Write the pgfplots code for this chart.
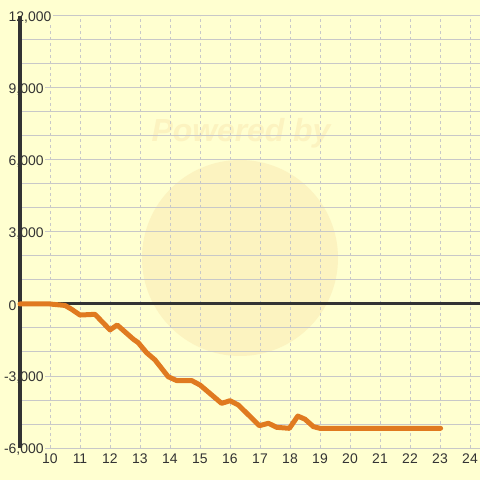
\documentclass[border=0pt]{standalone}
\usepackage{pgfplots}
\pgfplotsset{compat=1.18}
\usepackage{fontspec}
\setmainfont{Liberation Sans}
\definecolor{bgc}{RGB}{255,255,208}
\definecolor{gridc}{RGB}{200,200,200}
\definecolor{axc}{RGB}{51,51,51}
\definecolor{linec}{RGB}{224,122,32}
\definecolor{wm}{RGB}{252,243,192}
\begin{document}
\begin{tikzpicture}
\fill[bgc] (-20bp,-32bp) rectangle (460bp,448bp);
\fill[wm] (220bp,190bp) circle (98bp);
\node[text=wm, font=\bfseries\itshape\fontsize{32}{32}\selectfont] at (221bp,315bp) {Powered by};
\begin{axis}[
  scale only axis, width=460bp, height=432bp,
  xmin=9, xmax=24.3333, ymin=-6000, ymax=12000,
  axis line style={draw=none},
  major tick length=0pt, minor tick length=0pt,
  scaled y ticks=false,
  xtick={10,...,24},
  ytick={-6000,-3000,0,3000,6000,9000,12000},
  yticklabels={{\llap{-}6,000},{\llap{-}3,000},0,{3,000},{6,000},{9,000},{12,000}},
  minor ytick={-5000,-4000,-2000,-1000,1000,2000,4000,5000,7000,8000,10000,11000},
  xmajorgrids, ymajorgrids, yminorgrids,
  x grid style={gridc, dash pattern=on 3bp off 3bp, line width=0.8bp},
  y grid style={gridc, line width=1bp},
  /pgf/number format/assume math mode=true,
  ticklabel style={font=\fontsize{14}{14}\selectfont, text=axc},
  yticklabel style={anchor=west, xshift=-13bp, yshift=-1.5bp, fill=bgc, inner sep=1.5bp},
  xticklabel style={yshift=-2bp},
  clip=false,
]
\draw[axc, line width=3bp] (axis cs:9,-6000) -- (axis cs:9,12000);
\draw[axc, line width=3bp] (axis cs:9,0) -- (axis cs:24.3333,0);
\addplot[linec, line width=5bp, line join=round, line cap=round] coordinates {
(9,0) (10,0) (10.5,-60) (10.72,-220) (11,-460) (11.5,-430) (12,-1080) (12.24,-875)
(12.78,-1470) (12.94,-1610) (13.22,-2030) (13.5,-2330) (13.94,-3030) (14.22,-3190)
(14.72,-3190) (15,-3375) (15.72,-4140) (16,-4030) (16.28,-4210) (16.98,-5070)
(17.28,-4970) (17.56,-5140) (17.98,-5180) (18.26,-4670) (18.5,-4800) (18.78,-5110)
(19,-5180) (23.02,-5180)
};
\end{axis}
\pgfresetboundingbox
\useasboundingbox (-20bp,-32bp) rectangle (460bp,448bp);
\end{tikzpicture}
\end{document}
